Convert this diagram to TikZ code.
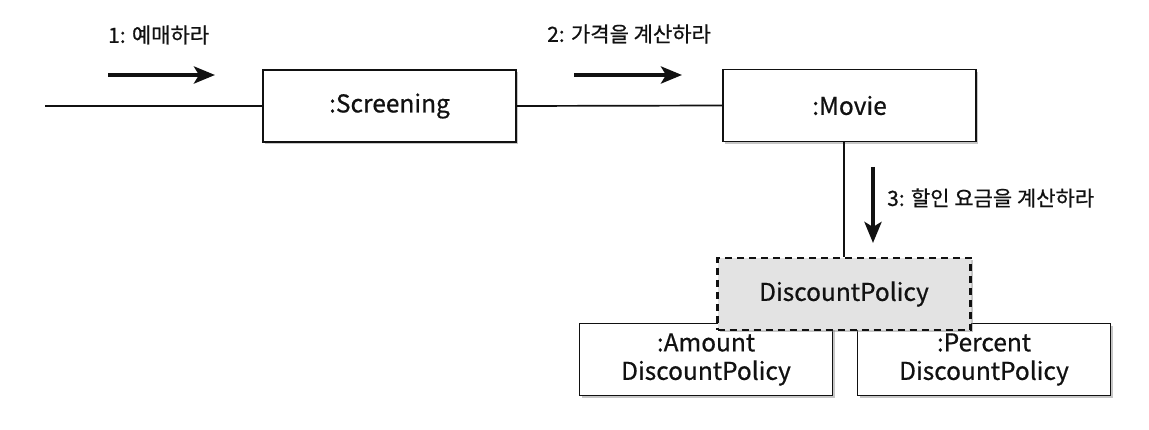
\documentclass[tikz,border=0pt]{standalone}
\usepackage{fontspec}
\setmainfont{Noto Sans CJK KR}[FakeBold=0.6]
\usetikzlibrary{arrows.meta,shadows}
\definecolor{ink}{HTML}{111111}
\definecolor{dpfill}{HTML}{E3E3E3}
\tikzset{
  obj/.style={draw=ink, line width=1.8pt, fill=white, minimum width=253pt, minimum height=72pt,
    inner sep=0pt, align=center, text=ink, font=\fontsize{24.5}{28.5}\selectfont,
    drop shadow={shadow xshift=2pt, shadow yshift=-2.5pt, opacity=0.45}},
  absobj/.style={obj, fill=dpfill, line width=2.4pt, dashed, dash pattern=on 7pt off 5pt},
  link/.style={draw=ink, line width=1.7pt},
  msg/.style={draw=ink, line width=4pt, -{Stealth[length=21pt,width=17pt,inset=5pt]}},
  lbl/.style={text=ink, anchor=west, inner sep=0pt, font=\fontsize{21}{25}\selectfont}
}
\begin{document}
\begin{tikzpicture}[x=1pt,y=-1pt]
\useasboundingbox (0,0) rectangle (1149,430);
\node[obj] (scr) at (389.5,106) {:Screening};
\node[obj] (mov) at (849.5,105.5) {:Movie};
\node[obj] (amt) at (706,359.5) {:Amount\\DiscountPolicy};
\node[obj] (pct) at (984,359.5) {:Percent\\DiscountPolicy};
\node[absobj] (dp) at (844,294) {DiscountPolicy};
\coordinate (start) at (45,106);
\draw[link] (start) -- (scr.west);
\draw[link] (scr.east) -- (mov.west);
\draw[link] (dp.north) -- (dp.north |- mov.south);
\coordinate (a1s) at (108,75);
\coordinate (a1e) at (215,75);
\coordinate (a2s) at (574,75);
\coordinate (a2e) at (682,75);
\coordinate (a3s) at (873,167);
\coordinate (a3e) at (873,243);
\draw[msg] (a1s) -- (a1e);
\draw[msg] (a2s) -- (a2e);
\draw[msg] (a3s) -- (a3e);
\node[lbl] (l1) at (108,35) {1: 예매하라};
\node[lbl] (l2) at (547,34) {2: 가격을 계산하라};
\node[lbl] (l3) at (887,198) {3: 할인 요금을 계산하라};
\end{tikzpicture}
\end{document}
